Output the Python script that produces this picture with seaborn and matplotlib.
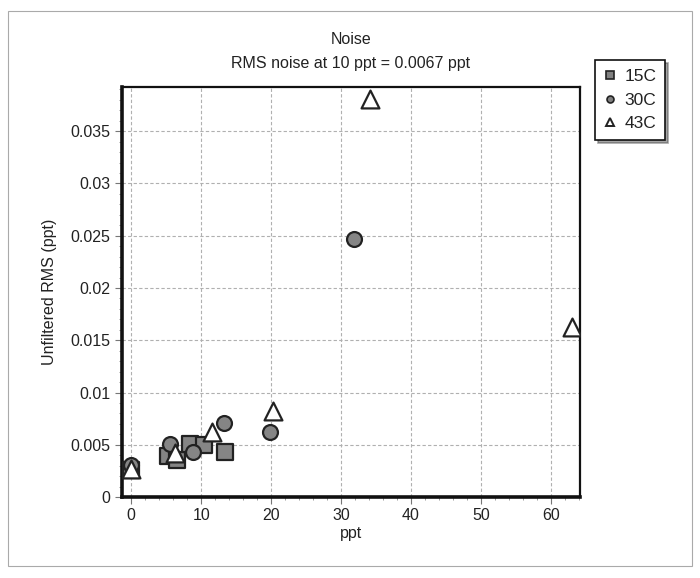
import matplotlib
matplotlib.use("Agg")
import matplotlib.pyplot as plt
import seaborn as sns
import pandas as pd
from matplotlib.lines import Line2D
from matplotlib.patches import Rectangle
from matplotlib.ticker import MultipleLocator, FuncFormatter

# ---- data ----
x_15c = [0, 5.2, 6.5, 8.4, 10.4, 13.4]
y_15c = [0.0026, 0.0039, 0.0035, 0.0051, 0.0050, 0.0043]
x_30c = [0, 5.6, 8.8, 13.2, 19.9, 31.9]
y_30c = [0.0031, 0.0051, 0.0043, 0.0071, 0.0062, 0.02465]
x_43c = [0, 6.3, 11.5, 20.2, 34.2, 63.0]
y_43c = [0.0027, 0.0042, 0.0062, 0.0082, 0.0381, 0.0163]
series_labels = ["15C", "30C", "43C"]
title_text = "Noise\nRMS noise at 10 ppt = 0.0067 ppt"
x_label = "ppt"
y_label = "Unfiltered RMS (ppt)"

df = pd.concat([
    pd.DataFrame({"ppt": x_15c, "rms": y_15c, "temp": "15C"}),
    pd.DataFrame({"ppt": x_30c, "rms": y_30c, "temp": "30C"}),
    pd.DataFrame({"ppt": x_43c, "rms": y_43c, "temp": "43C"}),
], ignore_index=True)

sns.set_theme(style="white")
plt.rcParams["font.family"] = ["Liberation Sans", "DejaVu Sans"]

fig = plt.figure(figsize=(7.0, 5.78), dpi=100)
ax = fig.add_axes([0.174, 0.140, 0.655, 0.709])

styles = {
    "15C": dict(marker="s", color="#858585", s=140),
    "30C": dict(marker="o", color="#858585", s=115),
    "43C": dict(marker="^", color="white", s=165),
}
for lab in series_labels:
    st = styles[lab]
    sns.scatterplot(data=df[df["temp"] == lab], x="ppt", y="rms",
                    marker=st["marker"], color=st["color"], s=st["s"],
                    edgecolor="#222222", linewidth=1.6, ax=ax, legend=False,
                    zorder=3)

ax.set_xlim(-1.35, 64.2)
ax.set_ylim(0, 0.0392)
ax.xaxis.set_major_locator(MultipleLocator(10))
ax.xaxis.set_minor_locator(MultipleLocator(2))
ax.yaxis.set_major_locator(MultipleLocator(0.005))
ax.yaxis.set_minor_locator(MultipleLocator(0.001))
ax.yaxis.set_major_formatter(FuncFormatter(lambda v, p: "0" if abs(v) < 1e-12 else ("%.3f" % v).rstrip("0")))

ax.grid(True, which="major", color="#b0b0b0", linestyle=(0, (3, 2)), linewidth=0.8)
ax.set_axisbelow(True)
ax.tick_params(axis="both", which="major", direction="out", length=5, width=0.8,
               color="#777777", labelsize=11.5, labelcolor="#222222", pad=3,
               bottom=True, left=True)
ax.tick_params(axis="both", which="minor", direction="out", length=2.5, width=0.7,
               color="#999999", bottom=True, left=True)

for side, lw in [("left", 2.6), ("bottom", 2.6), ("top", 1.6), ("right", 1.6)]:
    ax.spines[side].set_visible(True)
    ax.spines[side].set_color("#111111")
    ax.spines[side].set_linewidth(lw)

ax.set_xlabel(x_label, fontsize=11.5, color="#222222", labelpad=2)
ax.set_ylabel(y_label, fontsize=11.5, color="#222222", labelpad=10)
ax.set_title(title_text, fontsize=11.5, color="#222222", pad=14, linespacing=1.75)

handles = [
    Line2D([], [], marker="s", color="none", markerfacecolor="#808080",
           markeredgecolor="#222222", markersize=6, markeredgewidth=1.2),
    Line2D([], [], marker="o", color="none", markerfacecolor="#808080",
           markeredgecolor="#222222", markersize=5, markeredgewidth=1.2),
    Line2D([], [], marker="^", color="none", markerfacecolor="white",
           markeredgecolor="#222222", markersize=6, markeredgewidth=1.4),
]
leg = fig.legend(handles, series_labels, loc="upper left",
                 bbox_to_anchor=(595 / 700, 1 - 60 / 578),
                 frameon=True, fancybox=False, shadow=True, fontsize=12.5,
                 handlelength=0.7, handletextpad=0.5, borderpad=0.5,
                 labelspacing=0.5, borderaxespad=0)
leg.get_frame().set_edgecolor("#111111")
leg.get_frame().set_linewidth(1.2)
for t in leg.get_texts():
    t.set_color("#222222")

fig.patches.append(Rectangle((8 / 700, 12 / 578), 684 / 700, 555 / 578,
                             transform=fig.transFigure, fill=False,
                             edgecolor="#aaaaaa", linewidth=0.8))

fig.savefig("out.png", dpi=100)
